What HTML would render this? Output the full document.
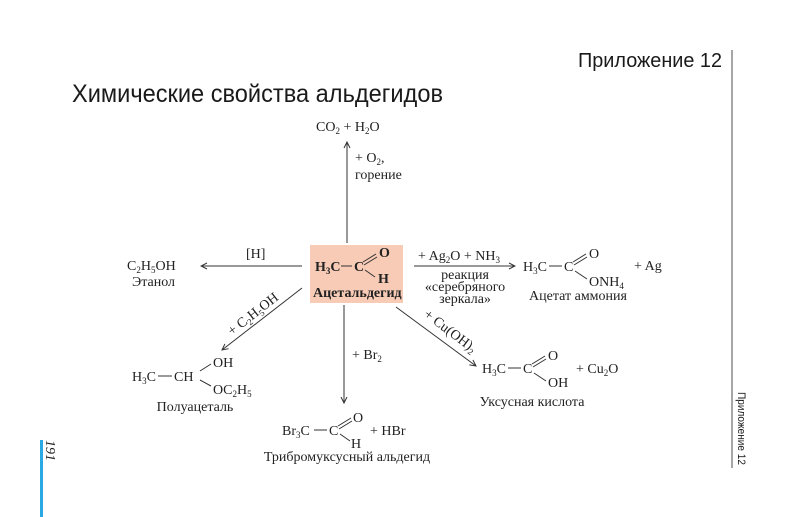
<!DOCTYPE html>
<html><head><meta charset="utf-8"><style>
html,body{margin:0;padding:0;background:#fff;}
svg{display:block}
.s{font-family:"Liberation Sans",sans-serif;fill:#1a1a1a}
.t{font-family:"Liberation Serif",serif;font-size:14px;fill:#222}
.b{font-weight:bold}
.sub{font-size:9px}
line,path{stroke:#333;stroke-width:1;fill:none}
</style></head><body>
<svg width="794" height="517" viewBox="0 0 794 517" xmlns="http://www.w3.org/2000/svg">
<defs><marker id="a" markerWidth="8" markerHeight="8" refX="7" refY="4" orient="auto" markerUnits="userSpaceOnUse"><path d="M1,1 L7,4 L1,7" style="stroke:#333;fill:none"/></marker></defs>

<text class="s" x="578" y="67" font-size="20" textLength="144" lengthAdjust="spacingAndGlyphs">Приложение 12</text>
<line x1="732" y1="50" x2="732" y2="468" style="stroke:#888;stroke-width:1.5"/>
<text class="s" font-size="11" transform="translate(738,392) rotate(90)" textLength="73" lengthAdjust="spacingAndGlyphs">Приложение 12</text>
<text class="s" x="72" y="102" font-size="25" textLength="371" lengthAdjust="spacingAndGlyphs">Химические свойства альдегидов</text>

<rect x="40" y="440" width="3" height="77" fill="#29a9e1"/>
<text class="t" font-size="17" font-style="italic" transform="translate(46,440) rotate(90)">191</text>

<!-- center -->
<rect x="310" y="245" width="93" height="58" fill="#f7cbb6"/>
<text class="t b" x="315" y="271">H<tspan class="sub" dy="3">3</tspan><tspan dy="-3">C</tspan></text>
<line x1="341" y1="266" x2="352" y2="266"/>
<text class="t b" x="354" y="271">C</text>
<line x1="363" y1="262" x2="376" y2="254"/><line x1="364" y1="265" x2="377" y2="257"/>
<text class="t b" x="379" y="257">O</text>
<line x1="365" y1="270" x2="375" y2="277"/>
<text class="t b" x="378" y="283">H</text>
<text class="t b" x="313" y="297" font-size="12">Ацетальдегид</text>

<!-- up -->
<line x1="347" y1="243" x2="347" y2="142" marker-end="url(#a)"/>
<text class="t" x="316" y="131">CO<tspan class="sub" dy="3">2</tspan><tspan dy="-3"> + H</tspan><tspan class="sub" dy="3">2</tspan><tspan dy="-3">O</tspan></text>
<text class="t" x="355" y="162" font-size="13">+ O<tspan class="sub" dy="3">2</tspan><tspan dy="-3">,</tspan></text>
<text class="t" x="355" y="179" font-size="13">горение</text>

<!-- left -->
<line x1="302" y1="266" x2="201" y2="266" marker-end="url(#a)"/>
<text class="t" x="246" y="258">[H]</text>
<text class="t" x="127" y="270">C<tspan class="sub" dy="3">2</tspan><tspan dy="-3">H</tspan><tspan class="sub" dy="3">5</tspan><tspan dy="-3">OH</tspan></text>
<text class="t" x="132" y="286" font-size="12.5">Этанол</text>

<!-- right -->
<line x1="414" y1="266" x2="515" y2="266" marker-end="url(#a)"/>
<text class="t" x="418" y="260" font-size="13">+ Ag<tspan class="sub" dy="3">2</tspan><tspan dy="-3">O + NH</tspan><tspan class="sub" dy="3">3</tspan></text>
<text class="t" x="465" y="279" font-size="12.5" text-anchor="middle">реакция</text>
<text class="t" x="465" y="291" font-size="12.5" text-anchor="middle">«серебряного</text>
<text class="t" x="465" y="303" font-size="12.5" text-anchor="middle">зеркала»</text>
<text class="t" x="523" y="271">H<tspan class="sub" dy="3">3</tspan><tspan dy="-3">C</tspan></text>
<line x1="549" y1="266" x2="562" y2="266"/>
<text class="t" x="564" y="271">C</text>
<line x1="573" y1="262" x2="586" y2="254"/><line x1="574" y1="265" x2="587" y2="257"/>
<text class="t" x="589" y="258">O</text>
<line x1="575" y1="271" x2="587" y2="279"/>
<text class="t" x="589" y="286">ONH<tspan class="sub" dy="3">4</tspan></text>
<text class="t" x="634" y="270">+ Ag</text>
<text class="t" x="578" y="300" font-size="12.5" text-anchor="middle">Ацетат аммония</text>

<!-- diag left -->
<line x1="302" y1="288" x2="222" y2="350" marker-end="url(#a)"/>
<text class="t" font-size="12.5" transform="translate(232,336) rotate(-38)">+ C<tspan class="sub" dy="3">2</tspan><tspan dy="-3">H</tspan><tspan class="sub" dy="3">5</tspan><tspan dy="-3">OH</tspan></text>
<text class="t" x="132" y="381">H<tspan class="sub" dy="3">3</tspan><tspan dy="-3">C</tspan></text>
<line x1="158" y1="376" x2="172" y2="376"/>
<text class="t" x="174" y="381">CH</text>
<line x1="200" y1="371" x2="211" y2="364"/>
<line x1="200" y1="380" x2="211" y2="386"/>
<text class="t" x="213" y="367">OH</text>
<text class="t" x="213" y="394">OC<tspan class="sub" dy="3">2</tspan><tspan dy="-3">H</tspan><tspan class="sub" dy="3">5</tspan></text>
<text class="t" x="195" y="411" font-size="12.5" text-anchor="middle">Полуацеталь</text>

<!-- down -->
<line x1="344" y1="305" x2="344" y2="403" marker-end="url(#a)"/>
<text class="t" x="352" y="359" font-size="13">+ Br<tspan class="sub" dy="3">2</tspan></text>
<text class="t" x="282" y="435">Br<tspan class="sub" dy="3">3</tspan><tspan dy="-3">C</tspan></text>
<line x1="314" y1="430" x2="327" y2="430"/>
<text class="t" x="329" y="435">C</text>
<line x1="338" y1="426" x2="351" y2="418"/><line x1="339" y1="429" x2="352" y2="421"/>
<text class="t" x="353" y="422">O</text>
<line x1="340" y1="434" x2="350" y2="441"/>
<text class="t" x="351" y="448">H</text>
<text class="t" x="370" y="435">+ HBr</text>
<text class="t" x="347" y="461" font-size="12.5" text-anchor="middle">Трибромуксусный альдегид</text>

<!-- diag right -->
<line x1="396" y1="307" x2="476" y2="366" marker-end="url(#a)"/>
<text class="t" font-size="12.5" transform="translate(423,316) rotate(37)">+ Cu(OH)<tspan class="sub" dy="3">2</tspan></text>
<text class="t" x="482" y="373">H<tspan class="sub" dy="3">3</tspan><tspan dy="-3">C</tspan></text>
<line x1="508" y1="368" x2="521" y2="368"/>
<text class="t" x="523" y="373">C</text>
<line x1="532" y1="364" x2="545" y2="356"/><line x1="533" y1="367" x2="546" y2="359"/>
<text class="t" x="548" y="360">O</text>
<line x1="534" y1="373" x2="546" y2="381"/>
<text class="t" x="548" y="387">OH</text>
<text class="t" x="576" y="373">+ Cu<tspan class="sub" dy="3">2</tspan><tspan dy="-3">O</tspan></text>
<text class="t" x="532" y="406" font-size="12.5" text-anchor="middle">Уксусная кислота</text>
</svg>
</body></html>
